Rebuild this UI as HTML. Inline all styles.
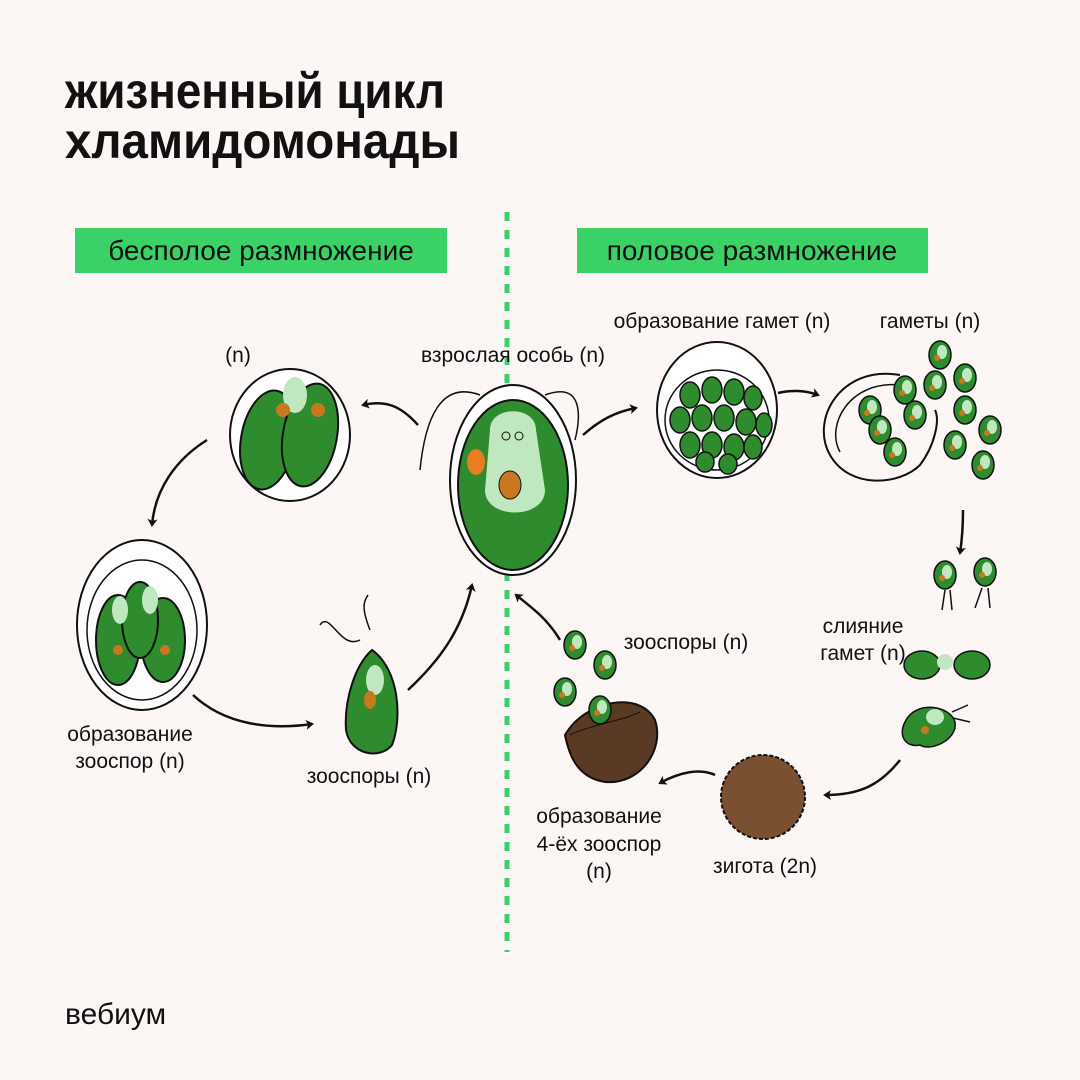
<!DOCTYPE html>
<html><head><meta charset="utf-8">
<style>
html,body{margin:0;padding:0;background:#fcf7f5;}
svg{display:block}
text{font-family:"Liberation Sans","DejaVu Sans",sans-serif;fill:#111}
</style></head>
<body>
<svg width="1080" height="1080" viewBox="0 0 1080 1080" xmlns="http://www.w3.org/2000/svg">
<defs>
<marker id="ah" markerWidth="10" markerHeight="10" refX="6" refY="5" orient="auto" markerUnits="userSpaceOnUse">
<path d="M0,0 L8,5 L0,10 L2,5 Z" fill="#111"/>
</marker>
<g id="cellsm">
<ellipse cx="0" cy="0" rx="11" ry="14" fill="#2e8b2e" stroke="#111" stroke-width="1.5"/>
<ellipse cx="2" cy="-3" rx="5" ry="7" fill="#bfe8c0"/>
<circle cx="-3" cy="3" r="3" fill="#c8781e"/>
</g>
</defs>
<rect width="1080" height="1080" fill="#fcf7f5"/>
<text x="65" y="108" font-size="50" font-weight="bold" textLength="380" lengthAdjust="spacingAndGlyphs">жизненный цикл</text>
<text x="65" y="158" font-size="50" font-weight="bold" textLength="395" lengthAdjust="spacingAndGlyphs">хламидомонады</text>

<rect x="75" y="228" width="372" height="45" fill="#3ad267"/>
<text x="261" y="260" font-size="28" text-anchor="middle">бесполое размножение</text>
<rect x="577" y="228" width="351" height="45" fill="#3ad267"/>
<text x="752" y="260" font-size="28" text-anchor="middle">половое размножение</text>

<line x1="507" y1="212" x2="507" y2="952" stroke="#3ad267" stroke-width="5" stroke-dasharray="9,9"/>

<g font-size="21">
<text x="238" y="362" text-anchor="middle">(n)</text>
<text x="513" y="362" text-anchor="middle">взрослая особь (n)</text>
<text x="722" y="328" text-anchor="middle">образование гамет (n)</text>
<text x="930" y="328" text-anchor="middle">гаметы (n)</text>
<text x="130" y="741" text-anchor="middle">образование</text>
<text x="130" y="768" text-anchor="middle">зооспор (n)</text>
<text x="369" y="783" text-anchor="middle">зооспоры (n)</text>
<text x="686" y="649" text-anchor="middle">зооспоры (n)</text>
<text x="863" y="633" text-anchor="middle">слияние</text>
<text x="863" y="660" text-anchor="middle">гамет (n)</text>
<text x="599" y="823" text-anchor="middle">образование</text>
<text x="599" y="851" text-anchor="middle">4-ёх зооспор</text>
<text x="599" y="878" text-anchor="middle">(n)</text>
<text x="765" y="873" text-anchor="middle">зигота (2n)</text>
</g>
<text x="65" y="1024" font-size="30">вебиум</text>

<!-- adult -->
<path d="M480,395 C440,380 425,420 420,470" fill="none" stroke="#111" stroke-width="1.5"/>
<path d="M545,395 C585,380 580,420 575,440" fill="none" stroke="#111" stroke-width="1.5"/>
<ellipse cx="513" cy="480" rx="63" ry="95" fill="#fff" stroke="#111" stroke-width="2"/>
<ellipse cx="513" cy="485" rx="55" ry="85" fill="#2e8b2e" stroke="#111" stroke-width="2"/>
<path d="M490,430 C490,405 536,405 536,430 L545,490 C545,520 485,520 485,490 Z" fill="#bfe8c0"/>
<ellipse cx="476" cy="462" rx="9" ry="13" fill="#e87e1e"/>
<ellipse cx="510" cy="485" rx="11" ry="14" fill="#c8781e" stroke="#111"/>
<circle cx="506" cy="436" r="4" fill="none" stroke="#111"/><circle cx="519" cy="436" r="4" fill="none" stroke="#111"/>

<!-- top-left (n) -->
<ellipse cx="290" cy="435" rx="60" ry="66" fill="#fff" stroke="#111" stroke-width="2"/>
<ellipse cx="268" cy="440" rx="27" ry="50" fill="#2e8b2e" stroke="#111" stroke-width="2" transform="rotate(10 268 440)"/>
<ellipse cx="310" cy="435" rx="27" ry="52" fill="#2e8b2e" stroke="#111" stroke-width="2" transform="rotate(10 310 435)"/>
<ellipse cx="295" cy="395" rx="12" ry="18" fill="#bfe8c0"/>
<circle cx="283" cy="410" r="7" fill="#c8781e"/>
<circle cx="318" cy="410" r="7" fill="#c8781e"/>

<!-- left zoospore formation -->
<ellipse cx="142" cy="625" rx="65" ry="85" fill="#fff" stroke="#111" stroke-width="2"/>
<ellipse cx="142" cy="630" rx="55" ry="70" fill="#fff" stroke="#111" stroke-width="1.5"/>
<ellipse cx="118" cy="640" rx="22" ry="45" fill="#2e8b2e" stroke="#111" stroke-width="2"/>
<ellipse cx="163" cy="640" rx="22" ry="42" fill="#2e8b2e" stroke="#111" stroke-width="2"/>
<ellipse cx="140" cy="620" rx="18" ry="38" fill="#2e8b2e" stroke="#111" stroke-width="2"/>
<ellipse cx="120" cy="610" rx="8" ry="14" fill="#bfe8c0"/><ellipse cx="150" cy="600" rx="8" ry="14" fill="#bfe8c0"/>
<circle cx="118" cy="650" r="5" fill="#c8781e"/><circle cx="165" cy="650" r="5" fill="#c8781e"/>

<!-- zoospore -->
<path d="M320,625 C330,610 340,650 360,640 M370,630 C360,605 365,600 368,595" fill="none" stroke="#111" stroke-width="1.5"/>
<path d="M372,650 C400,670 402,720 392,745 C380,760 350,755 346,730 C344,700 355,665 372,650 Z" fill="#2e8b2e" stroke="#111" stroke-width="2"/>
<ellipse cx="375" cy="680" rx="9" ry="15" fill="#bfe8c0"/>
<ellipse cx="370" cy="700" rx="6" ry="9" fill="#c8781e"/>

<!-- gamete formation -->
<ellipse cx="717" cy="410" rx="60" ry="68" fill="#fff" stroke="#111" stroke-width="2"/>
<ellipse cx="717" cy="420" rx="52" ry="50" fill="#fff" stroke="#111" stroke-width="1.5"/>
<g fill="#2e8b2e" stroke="#111" stroke-width="1.5">
<ellipse cx="690" cy="395" rx="10" ry="13"/><ellipse cx="712" cy="390" rx="10" ry="13"/><ellipse cx="734" cy="392" rx="10" ry="13"/><ellipse cx="753" cy="398" rx="9" ry="12"/>
<ellipse cx="680" cy="420" rx="10" ry="13"/><ellipse cx="702" cy="418" rx="10" ry="13"/><ellipse cx="724" cy="418" rx="10" ry="13"/><ellipse cx="746" cy="422" rx="10" ry="13"/><ellipse cx="764" cy="425" rx="8" ry="12"/>
<ellipse cx="690" cy="445" rx="10" ry="13"/><ellipse cx="712" cy="445" rx="10" ry="13"/><ellipse cx="734" cy="447" rx="10" ry="13"/><ellipse cx="753" cy="447" rx="9" ry="12"/>
<ellipse cx="705" cy="462" rx="9" ry="10"/><ellipse cx="728" cy="464" rx="9" ry="10"/>
</g>

<!-- gametes -->
<path d="M900,375 C840,365 810,420 830,455 C850,490 900,485 920,465 C935,445 940,420 935,410" fill="none" stroke="#111" stroke-width="2"/>
<path d="M900,385 C850,380 825,425 840,452" fill="none" stroke="#111" stroke-width="1.5"/>
<use href="#cellsm" x="870" y="410"/><use href="#cellsm" x="880" y="430"/><use href="#cellsm" x="895" y="452"/>
<use href="#cellsm" x="915" y="415"/><use href="#cellsm" x="905" y="390"/><use href="#cellsm" x="940" y="355"/>
<use href="#cellsm" x="965" y="378"/><use href="#cellsm" x="965" y="410"/><use href="#cellsm" x="990" y="430"/>
<use href="#cellsm" x="955" y="445"/><use href="#cellsm" x="983" y="465"/><use href="#cellsm" x="935" y="385"/>

<!-- pairs -->
<use href="#cellsm" x="945" y="575"/><use href="#cellsm" x="985" y="572"/>
<path d="M945,590 L942,610 M950,590 L952,610 M982,588 L975,608 M988,588 L990,608" stroke="#111" stroke-width="1.5"/>
<ellipse cx="922" cy="665" rx="18" ry="14" fill="#2e8b2e" stroke="#111" stroke-width="1.5"/>
<ellipse cx="972" cy="665" rx="18" ry="14" fill="#2e8b2e" stroke="#111" stroke-width="1.5"/>
<circle cx="945" cy="662" r="8" fill="#bfe8c0"/>
<path d="M905,722 C915,700 950,705 955,722 C958,740 930,752 920,745 C905,748 898,735 905,722 Z" fill="#2e8b2e" stroke="#111" stroke-width="1.5"/>
<ellipse cx="935" cy="717" rx="9" ry="8" fill="#bfe8c0"/><circle cx="925" cy="730" r="4" fill="#c8781e"/>
<path d="M952,712 L968,705 M953,718 L970,722" stroke="#111" stroke-width="1.5"/>

<!-- zygote -->
<circle cx="763" cy="797" r="42" fill="#7a5030" stroke="#111" stroke-width="2" stroke-dasharray="4,2"/>
<!-- cup -->
<path d="M565,735 C585,700 640,690 655,720 C665,750 640,785 605,782 C580,778 570,760 565,735 Z" fill="#5a3a25" stroke="#111" stroke-width="2"/>
<path d="M570,735 C590,725 625,720 640,712" fill="none" stroke="#111"/>
<use href="#cellsm" x="575" y="645"/><use href="#cellsm" x="605" y="665"/><use href="#cellsm" x="565" y="692"/><use href="#cellsm" x="600" y="710"/>

<!-- arrows -->
<g fill="none" stroke="#111" stroke-width="2.5" marker-end="url(#ah)">
<path d="M418,425 C400,405 385,400 363,405"/>
<path d="M207,440 C175,460 155,490 152,525"/>
<path d="M193,695 C225,725 270,730 312,724"/>
<path d="M408,690 C440,660 462,630 472,585"/>
<path d="M583,435 C600,420 615,412 636,408"/>
<path d="M778,393 C790,390 805,390 818,395"/>
<path d="M963,510 C963,525 962,540 960,553"/>
<path d="M900,760 C880,785 860,795 825,795"/>
<path d="M715,775 C700,768 680,772 660,783"/>
<path d="M560,640 C548,620 535,610 516,595"/>
</g>
</svg>
</body></html>
